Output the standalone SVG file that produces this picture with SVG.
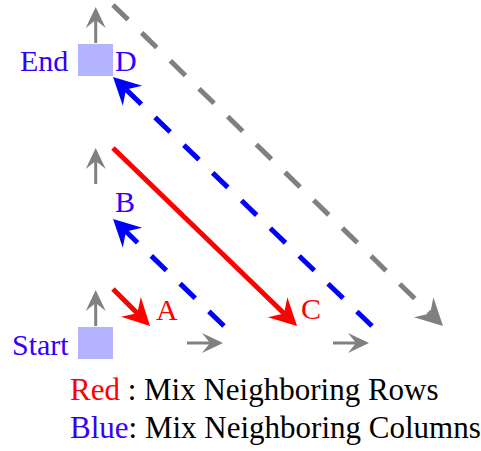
<svg xmlns="http://www.w3.org/2000/svg" width="481" height="451" viewBox="0 0 481 451">
<style>
.lbl{font-family:"Liberation Serif";font-size:30px;fill:#3300ff;}
.red{fill:#ff0000;}
.leg{font-family:"Liberation Serif";font-size:31px;fill:#000;}
.box{fill:#b3b3ff;}
.thin{stroke:#808080;stroke-width:3;fill:none;marker-end:url(#hs);}
.dash{stroke-width:5;fill:none;stroke-dasharray:21 19;}
</style>
<defs>
<marker id="hs" markerUnits="userSpaceOnUse" orient="auto" refX="0" refY="0" markerWidth="40" markerHeight="40" viewBox="-20 -20 40 40" overflow="visible">
<path d="M13,0 L-8,-10 L0,0 L-8,10 Z" fill="#808080"/>
</marker>
<marker id="hr" markerUnits="userSpaceOnUse" orient="auto" refX="0" refY="0" markerWidth="60" markerHeight="60" viewBox="-30 -30 60 60" overflow="visible">
<path d="M18,0 L-9,-14 L0,0 L-9,14 Z" fill="#ff0000"/>
</marker>
<marker id="hb" markerUnits="userSpaceOnUse" orient="auto" refX="0" refY="0" markerWidth="60" markerHeight="60" viewBox="-30 -30 60 60" overflow="visible">
<path d="M18,0 L-9,-14 L0,0 L-9,14 Z" fill="#0000ff"/>
</marker>
<marker id="hg" markerUnits="userSpaceOnUse" orient="auto" refX="0" refY="0" markerWidth="60" markerHeight="60" viewBox="-30 -30 60 60" overflow="visible">
<path d="M18,0 L-9,-14 L0,0 L-9,14 Z" fill="#808080"/>
</marker>
</defs>
<g id="connectors">
<line class="thin" x1="95.7" y1="326" x2="95.7" y2="303"/>
<line class="thin" x1="95.7" y1="184" x2="95.7" y2="161"/>
<line class="thin" x1="95.7" y1="43" x2="95.7" y2="20"/>
<line class="thin" x1="187" y1="343" x2="210" y2="343"/>
<line class="thin" x1="333" y1="343" x2="356" y2="343"/>
<line x1="113" y1="289" x2="137.3" y2="313.3" stroke="#ff0000" stroke-width="5" marker-end="url(#hr)"/>
<line x1="113" y1="148" x2="284.1" y2="313.5" stroke="#ff0000" stroke-width="5" marker-end="url(#hr)"/>
<line class="dash" x1="224" y1="326" x2="126" y2="231.5" stroke="#0000ff" marker-end="url(#hb)"/>
<line class="dash" x1="372" y1="326" x2="126" y2="89.5" stroke="#0000ff" marker-end="url(#hb)"/>
<line class="dash" x1="113" y1="5" x2="430.1" y2="313.5" stroke="#808080" marker-end="url(#hg)"/>
</g>
<g id="start">
<rect class="box" x="78" y="327" width="35" height="32"/>
<text class="lbl" x="12" y="355">Start</text>
</g>
<g id="end">
<rect class="box" x="78" y="44" width="35" height="32"/>
<text class="lbl" x="20" y="71">End</text>
<text class="lbl" x="115" y="71">D</text>
</g>
<g id="labelA"><text class="lbl red" x="156" y="320">A</text></g>
<g id="labelB"><text class="lbl" x="115" y="212">B</text></g>
<g id="labelC"><text class="lbl red" x="301" y="319">C</text></g>
<g id="legend">
<text class="leg" x="70" y="400"><tspan fill="#ff0000">Red</tspan> : Mix Neighboring Rows</text>
<text class="leg" x="70" y="438"><tspan fill="#3300ff">Blue</tspan>: Mix Neighboring Columns</text>
</g>
</svg>
